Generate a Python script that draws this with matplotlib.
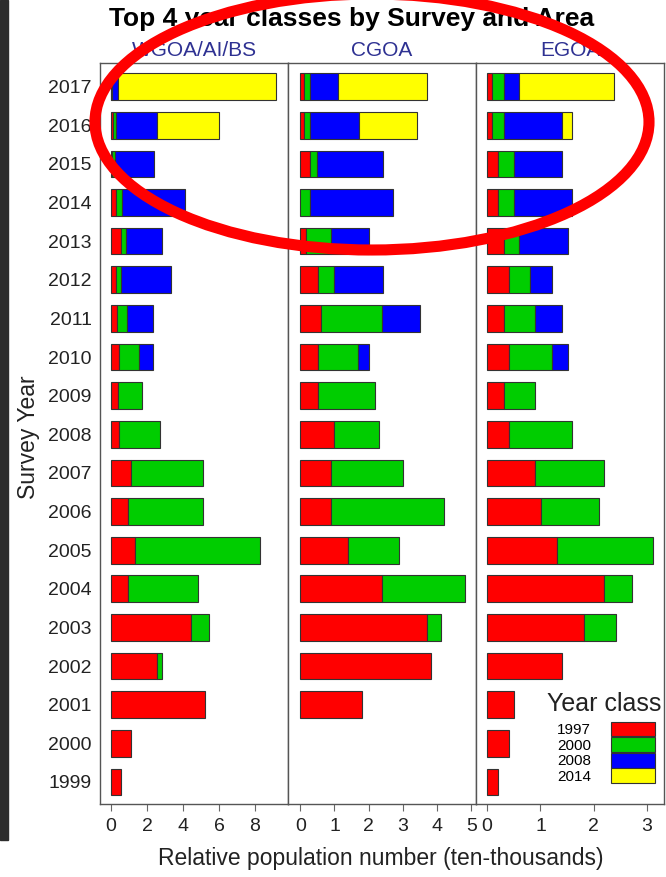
import numpy as np
import matplotlib.pyplot as plt
from matplotlib.patches import Patch, Ellipse, Rectangle

plt.rcParams['font.family'] = ['Liberation Sans', 'DejaVu Sans']

years = np.arange(2017, 1998, -1)
regions = ['WGOA/AI/BS', 'CGOA', 'EGOA']
classes = ['1997', '2000', '2008', '2014']
colors = ['#ff0000', '#00cd00', '#0000ff', '#ffff00']

# estimated segment lengths (ten-thousands), years 2017 -> 1999
wgoa_1997 = [0.02, 0.10, 0.03, 0.26, 0.56, 0.26, 0.35, 0.43, 0.41, 0.43,
             1.13, 0.93, 1.31, 0.93, 4.43, 2.54, 5.22, 1.13, 0.56]
wgoa_2000 = [0.02, 0.16, 0.22, 0.35, 0.27, 0.28, 0.56, 1.13, 1.31, 2.29,
             3.98, 4.18, 6.99, 3.88, 1.00, 0.29, 0, 0, 0]
wgoa_2008 = [0.36, 2.28, 2.15, 3.52, 2.00, 2.77, 1.40, 0.75, 0, 0,
             0, 0, 0, 0, 0, 0, 0, 0, 0]
wgoa_2014 = [8.77, 3.46, 0, 0, 0, 0, 0, 0, 0, 0,
             0, 0, 0, 0, 0, 0, 0, 0, 0]

cgoa_1997 = [0.10, 0.10, 0.29, 0.00, 0.18, 0.51, 0.60, 0.51, 0.51, 1.00,
             0.90, 0.90, 1.40, 2.40, 3.71, 3.81, 1.81, 0, 0]
cgoa_2000 = [0.19, 0.19, 0.21, 0.29, 0.71, 0.48, 1.80, 1.19, 1.68, 1.31,
             2.10, 3.30, 1.50, 2.42, 0.40, 0, 0, 0, 0]
cgoa_2008 = [0.81, 1.42, 1.91, 2.41, 1.11, 1.42, 1.11, 0.30, 0, 0,
             0, 0, 0, 0, 0, 0, 0, 0, 0]
cgoa_2014 = [2.60, 1.69, 0, 0, 0, 0, 0, 0, 0, 0,
             0, 0, 0, 0, 0, 0, 0, 0, 0]

egoa_1997 = [0.09, 0.09, 0.21, 0.21, 0.31, 0.41, 0.31, 0.41, 0.31, 0.41,
             0.90, 1.01, 1.31, 2.20, 1.81, 1.41, 0.51, 0.41, 0.21]
egoa_2000 = [0.22, 0.22, 0.30, 0.30, 0.29, 0.39, 0.59, 0.80, 0.59, 1.19,
             1.30, 1.09, 1.80, 0.51, 0.60, 0, 0, 0, 0]
egoa_2008 = [0.29, 1.10, 0.90, 1.09, 0.91, 0.41, 0.51, 0.30, 0, 0,
             0, 0, 0, 0, 0, 0, 0, 0, 0]
egoa_2014 = [1.79, 0.19, 0, 0, 0, 0, 0, 0, 0, 0,
             0, 0, 0, 0, 0, 0, 0, 0, 0]

panel_data = [
    [wgoa_1997, wgoa_2000, wgoa_2008, wgoa_2014],
    [cgoa_1997, cgoa_2000, cgoa_2008, cgoa_2014],
    [egoa_1997, egoa_2000, egoa_2008, egoa_2014],
]
xlims = [(-0.61, 9.83), (-0.36, 5.14), (-0.21, 3.32)]
xticks = [[0, 2, 4, 6, 8], [0, 1, 2, 3, 4, 5], [0, 1, 2, 3]]

fig = plt.figure(figsize=(6.66, 8.77), dpi=100)
W, H = 666, 877
bottom, top = 1 - 804 / H, 1 - 63 / H
lefts = [100, 288, 476]

axes = []
for i, region in enumerate(regions):
    ax = fig.add_axes([lefts[i] / W, bottom, 188 / W, top - bottom])
    cum = np.zeros(len(years))
    for vals, col in zip(panel_data[i], colors):
        vals = np.array(vals, dtype=float)
        m = vals > 0
        ax.barh(years[m], vals[m], left=cum[m], height=0.69, color=col,
                edgecolor='#333333', linewidth=0.8)
        cum += vals
    ax.set_xlim(*xlims[i])
    ax.set_ylim(1998.43, 2017.61)
    ax.set_xticks(xticks[i])
    ax.tick_params(axis='x', direction='out', length=5, color='#666666',
                   labelsize=14, labelcolor='#222222', pad=5)
    ax.set_yticks(years)
    if i == 0:
        ax.set_yticklabels([str(y) for y in years])
        ax.tick_params(axis='y', left=False, length=0, labelsize=14,
                       labelcolor='#222222', pad=6)
    else:
        ax.tick_params(axis='y', left=False, labelleft=False)
    for s in ax.spines.values():
        s.set_color('#555555')
        s.set_linewidth(1)
    ax.set_title(region, color='#2e3192', fontsize=15, pad=5)
    axes.append(ax)

handles = [Patch(facecolor=c, edgecolor='#333333', linewidth=0.8) for c in colors]
axes[2].legend(handles, classes, loc='lower right',
               bbox_to_anchor=(0.952, 0.027), frameon=False, fontsize=11,
               markerfirst=False, labelspacing=0,
               handlelength=2.9, handleheight=1.12, handletextpad=1.3,
               borderpad=0, borderaxespad=0)
axes[2].text(0.6835, 0.135, 'Year class', transform=axes[2].transAxes,
             ha='center', va='center', fontsize=18, color='#222222')

fig.text(352 / W, 1 - 19 / H, 'Top 4 year classes by Survey and Area',
         ha='center', va='center', fontsize=19, fontweight='bold')
fig.text(381 / W, 1 - 858 / H, 'Relative population number (ten-thousands)',
         ha='center', va='center', fontsize=16.5, color='#222222')
fig.text(28 / W, 1 - 437 / H, 'Survey Year', ha='center', va='center',
         rotation=90, fontsize=16.5, color='#222222')

# dark strip on the left edge and the red highlight ellipse of the screenshot
fig.add_artist(Rectangle((0, 1 - 840 / H), 8 / W, 840 / H,
                         transform=fig.transFigure, color='#2d2d2d', zorder=5))
fig.add_artist(Ellipse((372 / W, 1 - 122 / H), 554 / W, 256 / H,
                       transform=fig.transFigure, fill=False,
                       edgecolor='#ff0000', linewidth=8, zorder=10))

fig.savefig('out.png', dpi=100)
